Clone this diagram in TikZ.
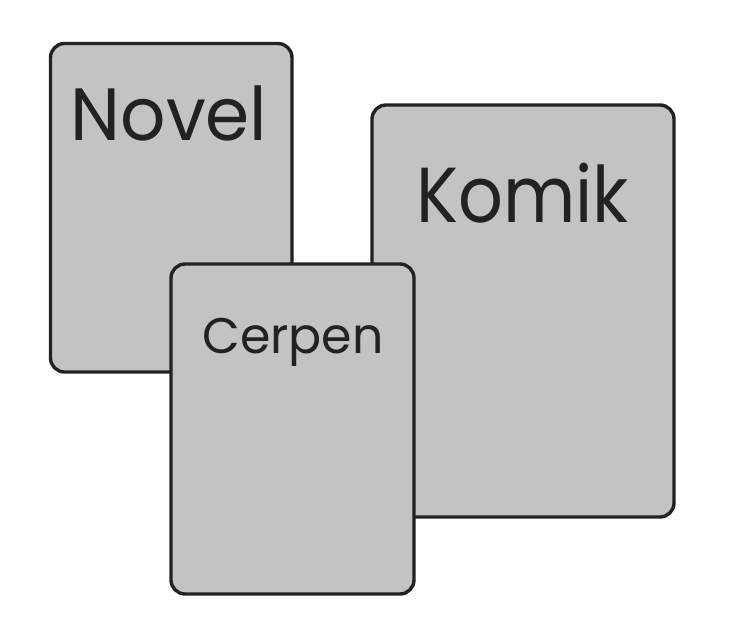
\documentclass[tikz,border=0pt]{standalone}
\usepackage{fontspec}
\setmainfont{Poppins}
\definecolor{cardfill}{HTML}{C3C3C3}
\definecolor{cardline}{HTML}{222222}
\begin{document}
\begin{tikzpicture}[x=1pt,y=-1pt,
  card/.style={draw=cardline,fill=cardfill,line width=3.4pt,rounded corners=14pt,rectangle,inner sep=0pt},
  label/.style={anchor=base,text=cardline,inner sep=0pt}]
\useasboundingbox (0,0) rectangle (730,625);
\node[card,minimum width=241.5pt,minimum height=328.5pt] (novel) at (171.25,207.75) {};
\node[card,minimum width=302pt,minimum height=412pt] (komik) at (523,311) {};
\node[card,minimum width=243pt,minimum height=330pt] (cerpen) at (292.5,429) {};
\node[label,font=\fontsize{74}{74}\selectfont] (tnovel) at (169,140) {\scalebox{0.96}[1]{Novel}};
\node[label,font=\fontsize{78}{78}\selectfont] (tkomik) at (522.5,222) {\scalebox{0.9}[1]{Komik}};
\node[label,font=\fontsize{50}{50}\selectfont] (tcerpen) at (293,353) {\scalebox{0.98}[1]{Cerpen}};
\end{tikzpicture}
\end{document}
